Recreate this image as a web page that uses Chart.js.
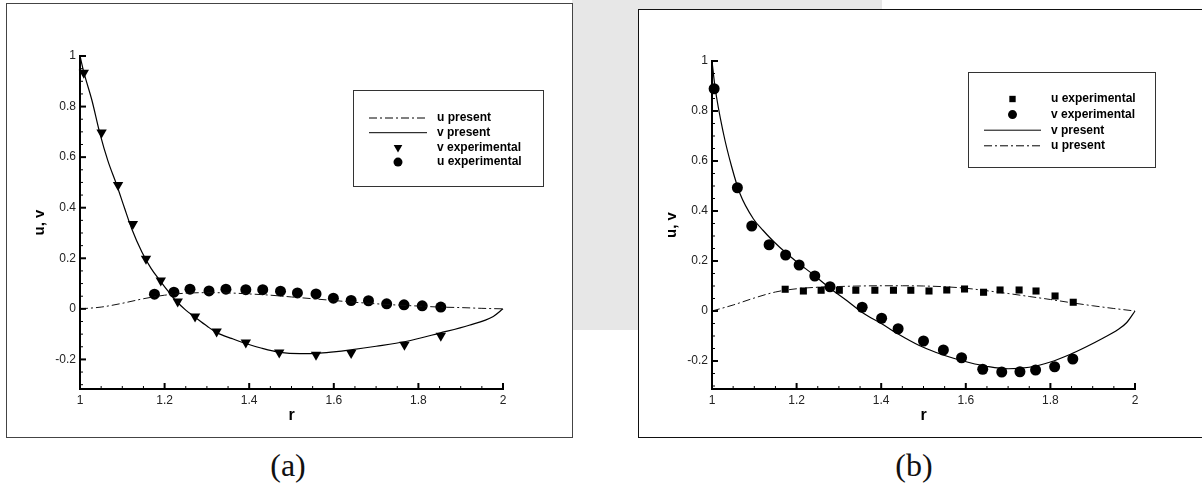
<!DOCTYPE html>
<html>
<head>
<meta charset="utf-8">
<script src="https://cdn.jsdelivr.net/npm/chart.js@4.4.1/dist/chart.umd.min.js"></script>
<style>
  html, body { margin: 0; padding: 0; background: #fff; }
  body { width: 1202px; height: 489px; position: relative; overflow: hidden; }
  .band { position: absolute; background: #e7e7e7; }
  .box { position: absolute; background: #fff; }
  .box canvas { display: block; }
  .cap { position: absolute; font-family: 'Liberation Serif', 'DejaVu Serif', serif; font-size: 32px; color: #111; transform: translate(-50%, -50%); white-space: nowrap; }
</style>
</head>
<body>
<div class="band" style="left:572px; top:0; width:66px; height:330px;"></div>
<div class="band" style="left:572px; top:0; width:310px; height:9px;"></div>
<div class="box" style="left:6px; top:3px; border:1px solid #444;"><canvas id="chartA" width="565" height="433"></canvas></div>
<div class="box" style="left:638px; top:9px; border:1px solid #111; border-right:none;"><canvas id="chartB" width="565" height="427"></canvas></div>
<div class="cap" style="left:288px; top:465px;">(a)</div>
<div class="cap" style="left:914px; top:465px;">(b)</div>
<script>
// tick labels
const xTicks = [1, 1.2, 1.4, 1.6, 1.8, 2];
const yTicks = [-0.2, 0, 0.2, 0.4, 0.6, 0.8, 1];

// (a) u present
const rA_uLine = [1.0, 1.05, 1.1, 1.15, 1.2, 1.25, 1.3, 1.35, 1.4, 1.45, 1.5, 1.55, 1.6, 1.65, 1.7, 1.75, 1.8, 1.85, 1.9, 1.95, 2.0];
const uA_line  = [0, 0.007, 0.022, 0.04, 0.054, 0.062, 0.064, 0.063, 0.059, 0.054, 0.047, 0.04, 0.033, 0.026, 0.02, 0.015, 0.011, 0.007, 0.005, 0.002, 0];
// (a) v present
const rA_vLine = [1.0, 1.01, 1.028, 1.047, 1.066, 1.087, 1.105, 1.122, 1.146, 1.168, 1.189, 1.213, 1.228, 1.25, 1.272, 1.3, 1.323, 1.36, 1.39, 1.43, 1.473, 1.52, 1.56, 1.6, 1.64, 1.7, 1.77, 1.85, 1.92, 1.977, 2.0];
const vA_line  = [1.0, 0.93, 0.826, 0.694, 0.585, 0.489, 0.40, 0.318, 0.226, 0.16, 0.112, 0.06, 0.03, -0.005, -0.033, -0.068, -0.094, -0.118, -0.136, -0.156, -0.172, -0.177, -0.176, -0.17, -0.162, -0.148, -0.129, -0.096, -0.065, -0.03, 0.0];
// (a) v experimental
const rA_vExp = [1.009, 1.051, 1.09, 1.125, 1.156, 1.191, 1.231, 1.272, 1.323, 1.392, 1.471, 1.558, 1.641, 1.767, 1.853];
const vA_exp  = [0.934, 0.697, 0.49, 0.336, 0.198, 0.112, 0.029, -0.03, -0.09, -0.133, -0.173, -0.182, -0.175, -0.142, -0.106];
// (a) u experimental
const rA_uExp = [1.176, 1.222, 1.26, 1.305, 1.345, 1.392, 1.432, 1.474, 1.514, 1.558, 1.599, 1.641, 1.682, 1.725, 1.766, 1.809, 1.853];
const uA_exp  = [0.058, 0.066, 0.078, 0.071, 0.078, 0.076, 0.076, 0.07, 0.063, 0.059, 0.042, 0.033, 0.032, 0.02, 0.016, 0.012, 0.007];

// (b) u experimental
const rB_uExp = [1.173, 1.216, 1.258, 1.301, 1.34, 1.385, 1.429, 1.47, 1.513, 1.555, 1.597, 1.642, 1.681, 1.726, 1.766, 1.811, 1.854];
const uB_exp  = [0.087, 0.08, 0.083, 0.083, 0.083, 0.083, 0.083, 0.083, 0.08, 0.084, 0.088, 0.075, 0.084, 0.084, 0.08, 0.06, 0.035];
// (b) v experimental
const rB_vExp = [1.005, 1.06, 1.094, 1.135, 1.174, 1.206, 1.243, 1.279, 1.355, 1.401, 1.44, 1.5, 1.547, 1.59, 1.64, 1.685, 1.728, 1.765, 1.81, 1.853];
const vB_exp  = [0.889, 0.493, 0.34, 0.265, 0.224, 0.184, 0.14, 0.097, 0.015, -0.029, -0.071, -0.12, -0.156, -0.187, -0.233, -0.244, -0.243, -0.236, -0.223, -0.192];
// (b) v present
const rB_vLine = [1.0, 1.007, 1.027, 1.046, 1.066, 1.098, 1.121, 1.137, 1.16, 1.2, 1.24, 1.279, 1.32, 1.358, 1.4, 1.437, 1.49, 1.53, 1.571, 1.61, 1.649, 1.7, 1.75, 1.8, 1.846, 1.885, 1.925, 1.96, 1.98, 2.0];
const vB_line  = [1.0, 0.897, 0.711, 0.58, 0.47, 0.368, 0.322, 0.293, 0.255, 0.197, 0.145, 0.091, 0.04, -0.009, -0.05, -0.089, -0.138, -0.166, -0.189, -0.207, -0.221, -0.231, -0.225, -0.204, -0.174, -0.143, -0.108, -0.074, -0.047, 0];
// (b) u present
const rB_uLine = [1.0, 1.05, 1.1, 1.15, 1.2, 1.25, 1.3, 1.35, 1.4, 1.45, 1.5, 1.55, 1.6, 1.65, 1.7, 1.75, 1.8, 1.85, 1.9, 1.95, 2.0];
const uB_line  = [0, 0.024, 0.052, 0.076, 0.089, 0.095, 0.098, 0.1, 0.101, 0.101, 0.1, 0.097, 0.091, 0.081, 0.07, 0.058, 0.046, 0.033, 0.021, 0.01, 0];

Chart.defaults.font.family = "'Liberation Sans', Arial, sans-serif";
Chart.defaults.color = '#222';

function pts(xs, ys) {
    return xs.map((x, i) => ({x: x, y: ys[i]}));
}

function fmt(v) {
    return String(Math.round(v * 100) / 100);
}

const DASHDOT = [8, 3, 2, 3];

// inward major + minor ticks on the left and bottom axes
const tickMarks = {
    id: 'tickMarks',
    afterDatasetsDraw(chart) {
        const ctx = chart.ctx;
        const xs = chart.scales.x, ys = chart.scales.y;
        const a = chart.chartArea;
        ctx.save();
        ctx.strokeStyle = '#000';
        for (let i = 20; i <= 40; i++) {
            const px = xs.getPixelForValue(i * 0.05);
            const major = i % 4 === 0;
            ctx.lineWidth = major ? 2 : 1;
            ctx.beginPath();
            ctx.moveTo(px, a.bottom);
            ctx.lineTo(px, a.bottom - (major ? 6 : 3));
            ctx.stroke();
        }
        for (let i = -6; i <= 20; i++) {
            const py = ys.getPixelForValue(i * 0.05);
            if (py > a.bottom + 0.5) continue;
            const major = i % 4 === 0;
            ctx.lineWidth = major ? 2 : 1;
            ctx.beginPath();
            ctx.moveTo(a.left, py);
            ctx.lineTo(a.left + (major ? 6 : 3), py);
            ctx.stroke();
        }
        ctx.restore();
    }
};

// boxed legend inside the plot, rows in dataset order
const boxLegend = {
    id: 'boxLegend',
    afterDraw(chart, args, opts) {
        const ctx = chart.ctx;
        ctx.save();
        ctx.strokeStyle = '#333';
        ctx.lineWidth = 1;
        ctx.strokeRect(opts.x + 0.5, opts.y + 0.5, opts.w, opts.h);
        ctx.font = "bold 12px 'Liberation Sans', Arial, sans-serif";
        ctx.textBaseline = 'middle';
        ctx.textAlign = 'left';
        chart.data.datasets.forEach((ds, i) => {
            const y = opts.rowY + i * opts.rowGap;
            if (ds.showLine) {
                ctx.strokeStyle = '#000';
                ctx.lineWidth = 1;
                ctx.setLineDash(ds.borderDash || []);
                ctx.beginPath();
                ctx.moveTo(opts.lineX, y);
                ctx.lineTo(opts.lineX + opts.lineW, y);
                ctx.stroke();
                ctx.setLineDash([]);
            } else {
                ctx.fillStyle = '#000';
                ctx.strokeStyle = '#000';
                Chart.helpers.drawPoint(ctx, {
                    pointStyle: ds.pointStyle,
                    rotation: ds.rotation || 0,
                    radius: ds.legendRadius,
                    borderWidth: 0
                }, opts.lineX + opts.lineW / 2, y);
            }
            ctx.fillStyle = '#000';
            ctx.fillText(ds.label, opts.textX, y);
        });
        ctx.restore();
    }
};

function axes(ymin) {
    return {
        x: {
            type: 'linear', min: 1, max: 2,
            afterBuildTicks: s => { s.ticks = xTicks.map(v => ({value: v})); },
            afterFit: s => { s.height = 48; },
            ticks: {callback: v => fmt(v), font: {size: 12}, color: '#222', padding: 4, maxRotation: 0, autoSkip: false},
            grid: {display: false, drawTicks: false},
            border: {display: true, color: '#000', width: 2},
            title: {display: true, text: 'r', color: '#000', font: {size: 16, weight: 'bold'}, padding: {top: 0, bottom: 12}}
        },
        y: {
            type: 'linear', min: ymin, max: 1,
            afterBuildTicks: s => { s.ticks = yTicks.map(v => ({value: v})); },
            afterFit: s => { s.width = 73; },
            ticks: {callback: v => fmt(v), font: {size: 12}, color: '#222', padding: 4, autoSkip: false},
            grid: {display: false, drawTicks: false},
            border: {display: true, color: '#000', width: 2},
            title: {display: true, text: 'u, v', color: '#000', font: {size: 15, weight: 'bold'}, padding: {top: 24, bottom: 0}}
        }
    };
}

if (document.getElementById("chartA") != null) {
    const ctxA = document.getElementById('chartA');
    new Chart(ctxA, {
        type: 'scatter',
        data: {
            datasets: [{
                label: 'u present',
                data: pts(rA_uLine, uA_line),
                showLine: true,
                borderColor: '#111',
                borderWidth: 1,
                borderDash: DASHDOT,
                pointRadius: 0,
                cubicInterpolationMode: 'monotone'
            }, {
                label: 'v present',
                data: pts(rA_vLine, vA_line),
                showLine: true,
                borderColor: '#000',
                borderWidth: 1.2,
                pointRadius: 0,
                cubicInterpolationMode: 'monotone'
            }, {
                label: 'v experimental',
                data: pts(rA_vExp, vA_exp),
                showLine: false,
                pointStyle: 'triangle',
                rotation: 180,
                pointRadius: 6,
                legendRadius: 5,
                backgroundColor: '#000',
                borderColor: '#000',
                borderWidth: 0
            }, {
                label: 'u experimental',
                data: pts(rA_uExp, uA_exp),
                showLine: false,
                pointStyle: 'circle',
                pointRadius: 5.5,
                legendRadius: 4.5,
                backgroundColor: '#000',
                borderColor: '#000',
                borderWidth: 0
            }]
        },
        options: {
            responsive: false,
            animation: false,
            clip: false,
            layout: {padding: {top: 52, right: 69, left: 0, bottom: 0}},
            scales: axes(-0.317),
            plugins: {
                legend: {display: false},
                tooltip: {enabled: false},
                boxLegend: {x: 346, y: 86, w: 190, h: 96, rowY: 114, rowGap: 14.7, lineX: 362, lineW: 58, textX: 430}
            }
        },
        plugins: [tickMarks, boxLegend]
    });
}

if (document.getElementById("chartB") != null) {
    const ctxB = document.getElementById('chartB');
    new Chart(ctxB, {
        type: 'scatter',
        data: {
            datasets: [{
                label: 'u experimental',
                data: pts(rB_uExp, uB_exp),
                showLine: false,
                pointStyle: 'rect',
                pointRadius: 5,
                legendRadius: 4.5,
                backgroundColor: '#000',
                borderColor: '#000',
                borderWidth: 0
            }, {
                label: 'v experimental',
                data: pts(rB_vExp, vB_exp),
                showLine: false,
                pointStyle: 'circle',
                pointRadius: 5.5,
                legendRadius: 4.5,
                backgroundColor: '#000',
                borderColor: '#000',
                borderWidth: 0
            }, {
                label: 'v present',
                data: pts(rB_vLine, vB_line),
                showLine: true,
                borderColor: '#000',
                borderWidth: 1.2,
                pointRadius: 0,
                cubicInterpolationMode: 'monotone'
            }, {
                label: 'u present',
                data: pts(rB_uLine, uB_line),
                showLine: true,
                borderColor: '#111',
                borderWidth: 1,
                borderDash: DASHDOT,
                pointRadius: 0,
                cubicInterpolationMode: 'monotone'
            }]
        },
        options: {
            responsive: false,
            animation: false,
            clip: false,
            layout: {padding: {top: 51, right: 69, left: 0, bottom: 0}},
            scales: axes(-0.312),
            plugins: {
                legend: {display: false},
                tooltip: {enabled: false},
                boxLegend: {x: 329, y: 62, w: 187, h: 95, rowY: 89, rowGap: 15.6, lineX: 345, lineW: 57, textX: 412}
            }
        },
        plugins: [tickMarks, boxLegend]
    });
}
</script>
</body>
</html>
